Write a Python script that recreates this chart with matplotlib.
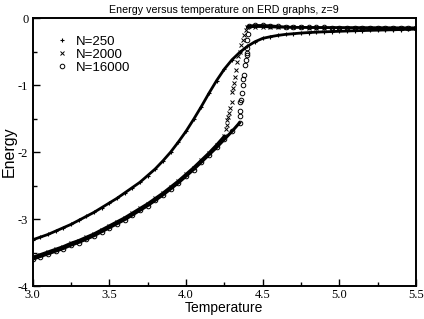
import matplotlib
matplotlib.use("Agg")
import matplotlib.pyplot as plt
from matplotlib.ticker import MultipleLocator
import numpy as np

# N=250: smooth crossover curve
T_250 = [3.00, 3.05, 3.10, 3.15, 3.20, 3.25, 3.30, 3.35, 3.40, 3.45,
         3.50, 3.55, 3.60, 3.65, 3.70, 3.75, 3.80, 3.85, 3.90, 3.95,
         4.00, 4.05, 4.10, 4.15, 4.20, 4.25, 4.30, 4.35, 4.40, 4.45,
         4.50, 4.55, 4.60, 4.65, 4.70, 4.75, 4.80, 4.85, 4.90, 4.95,
         5.00, 5.05, 5.10, 5.15, 5.20, 5.25, 5.30, 5.35, 5.40, 5.45, 5.50]
E_250 = [-3.31, -3.27, -3.23, -3.18, -3.13, -3.08, -3.02, -2.96, -2.90, -2.83,
         -2.76, -2.69, -2.61, -2.53, -2.45, -2.35, -2.25, -2.13, -2.00, -1.85,
         -1.69, -1.51, -1.32, -1.12, -0.93, -0.76, -0.62, -0.51, -0.42, -0.35,
         -0.30, -0.275, -0.255, -0.24, -0.23, -0.22, -0.213, -0.207, -0.202, -0.198,
         -0.194, -0.19, -0.186, -0.183, -0.18, -0.177, -0.174, -0.171, -0.168, -0.165, -0.162]

# N=2000: low branch, jump, high branch
T_2000_low = [3.00, 3.05, 3.10, 3.15, 3.20, 3.25, 3.30, 3.35, 3.40, 3.45,
              3.50, 3.55, 3.60, 3.65, 3.70, 3.75, 3.80, 3.85, 3.90, 3.95,
              4.00, 4.05, 4.10, 4.15, 4.20, 4.25]
E_2000_low = [-3.57, -3.53, -3.49, -3.45, -3.41, -3.36, -3.32, -3.27, -3.22, -3.16,
              -3.10, -3.04, -2.98, -2.91, -2.84, -2.77, -2.69, -2.61, -2.52, -2.43,
              -2.33, -2.23, -2.12, -2.01, -1.89, -1.76]
T_2000_jump = [4.258, 4.265, 4.27, 4.276, 4.28, 4.287, 4.298, 4.302, 4.308, 4.312,
               4.32, 4.328, 4.332, 4.34, 4.35, 4.36, 4.37, 4.38, 4.392]
E_2000_jump = [-1.66, -1.60, -1.52, -1.47, -1.42, -1.345, -1.245, -1.10, -1.045, -0.97,
               -0.87, -0.77, -0.65, -0.57, -0.50, -0.40, -0.32, -0.25, -0.175]
T_2000_high = [4.40, 4.45, 4.50, 4.55, 4.60, 4.65, 4.70, 4.75, 4.80, 4.85,
               4.90, 4.95, 5.00, 5.05, 5.10, 5.15, 5.20, 5.25, 5.30, 5.35,
               5.40, 5.45, 5.50]
E_2000_high = [-0.13, -0.125, -0.125, -0.13, -0.133, -0.135, -0.136, -0.137, -0.138, -0.139,
               -0.14, -0.14, -0.141, -0.141, -0.142, -0.142, -0.143, -0.143, -0.144, -0.144,
               -0.145, -0.145, -0.145]

# N=16000
T_16000_low = [3.00, 3.05, 3.10, 3.15, 3.20, 3.25, 3.30, 3.35, 3.40, 3.45,
               3.50, 3.55, 3.60, 3.65, 3.70, 3.75, 3.80, 3.85, 3.90, 3.95,
               4.00, 4.05, 4.10, 4.15, 4.20, 4.25, 4.30, 4.35]
E_16000_low = [-3.60, -3.56, -3.52, -3.48, -3.44, -3.39, -3.35, -3.30, -3.25, -3.19,
               -3.13, -3.07, -3.01, -2.94, -2.87, -2.80, -2.72, -2.64, -2.55, -2.46,
               -2.36, -2.26, -2.15, -2.04, -1.93, -1.81, -1.69, -1.56]
T_16000_jump = [4.350, 4.352, 4.355, 4.358, 4.363, 4.370, 4.375, 4.378, 4.385, 4.390,
                4.395, 4.397, 4.398, 4.400, 4.405]
E_16000_jump = [-1.46, -1.38, -1.25, -1.22, -1.11, -1.00, -0.91, -0.84, -0.70, -0.63,
                -0.55, -0.52, -0.45, -0.32, -0.24]
T_16000_high = [4.41, 4.45, 4.50, 4.55, 4.60, 4.65, 4.70, 4.75, 4.80, 4.85,
                4.90, 4.95, 5.00, 5.05, 5.10, 5.15, 5.20, 5.25, 5.30, 5.35,
                5.40, 5.45, 5.50]
E_16000_high = [-0.115, -0.105, -0.105, -0.11, -0.12, -0.128, -0.132, -0.134, -0.135, -0.136,
                -0.137, -0.138, -0.138, -0.139, -0.139, -0.14, -0.14, -0.141, -0.141, -0.142,
                -0.142, -0.143, -0.143]

plt.rcParams['axes.unicode_minus'] = False
sans = ['Liberation Sans', 'DejaVu Sans']
serif = ['Liberation Serif', 'DejaVu Serif']

fig = plt.figure(figsize=(4.24, 3.19), dpi=100)
ax = fig.add_axes([0.0767, 0.1034, 0.9045, 0.8392])

# dense parts of each series merge into thick lines
ax.plot(T_250, E_250, '-', color='black', lw=2.0)
ax.plot(T_2000_low, E_2000_low, '-', color='black', lw=2.0)
ax.plot(T_2000_high, E_2000_high, '-', color='black', lw=1.8)
ax.plot(T_16000_low, E_16000_low, '-', color='black', lw=2.2)
ax.plot(T_16000_high, E_16000_high, '-', color='black', lw=1.8)

ax.plot(T_250, E_250, ls='none', marker='+', ms=3.2, mew=0.8, color='black', label='N=250')
ax.plot(T_2000_low + T_2000_jump + T_2000_high, E_2000_low + E_2000_jump + E_2000_high,
        ls='none', marker='x', ms=2.6, mew=0.7, color='black', label='N=2000')
ax.plot(T_16000_low + T_16000_jump + T_16000_high, E_16000_low + E_16000_jump + E_16000_high,
        ls='none', marker='o', ms=3.3, mew=0.7, mfc='none', color='black', label='N=16000')

ax.set_xlim(3.0, 5.5)
ax.set_ylim(-4, 0)
ax.set_xticks([3.0, 3.5, 4.0, 4.5, 5.0, 5.5])
ax.set_xticklabels(['3.0', '3.5', '4.0', '4.5', '5.0', '5.5'], family=serif, fontsize=9)
ax.set_yticks([0, -1, -2, -3, -4])
ax.set_yticklabels(['0', '-1', '-2', '-3', '-4'], family=serif, fontsize=9)
ax.xaxis.set_minor_locator(MultipleLocator(0.25))
ax.yaxis.set_minor_locator(MultipleLocator(0.5))
ax.tick_params(which='both', direction='in', top=False, right=False, width=1)
ax.tick_params(which='major', length=5)
ax.tick_params(which='minor', length=3)
ax.tick_params(axis='x', pad=2)
ax.tick_params(axis='y', pad=3)
for s in ax.spines.values():
    s.set_linewidth(1.4)

ax.set_xlabel('Temperature', family=sans, fontsize=10, labelpad=0)
ax.set_ylabel('Energy', family=sans, fontsize=11.5, labelpad=1)
ax.set_title('Energy versus temperature on ERD graphs, z=9', family=sans, fontsize=7.7, pad=4)

leg = ax.legend(loc='upper left', bbox_to_anchor=(0.028, 0.98), frameon=False,
                numpoints=1, handlelength=1.0, handletextpad=0.6, labelspacing=0.06,
                prop={'family': sans, 'size': 9.5})

fig.savefig('out.png', dpi=100)
